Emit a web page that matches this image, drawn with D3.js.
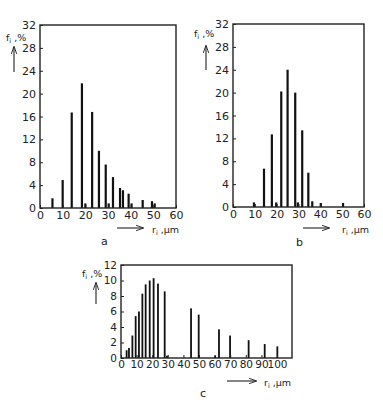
<!DOCTYPE html>
<html><head><meta charset="utf-8">
<script src="https://cdn.jsdelivr.net/npm/d3@7"></script>
<style>body{margin:0;background:#fff}svg{display:block}text{font-family:"DejaVu Sans",sans-serif;fill:#222}</style>
</head><body>
<script>
// Panel a
const radiiA = [5.5, 10, 14, 18.5, 20, 23, 26, 29, 30.3, 32.2, 35.3, 36.6, 39.1, 40.4, 45.3, 49.4, 50.6];
const freqA  = [1.7, 4.9, 16.7, 21.8, 0.8, 16.8, 10, 7.6, 0.8, 5.4, 3.5, 3.1, 2.5, 0.8, 1.4, 1.2, 0.8];
// Panel b
const radiiB = [9.6, 14.2, 17.8, 19.8, 22.1, 25, 28.5, 29.7, 31.7, 34.5, 36.3, 40.2, 50.4];
const freqB  = [0.8, 6.7, 12.7, 0.8, 20.2, 24, 20, 0.8, 13.4, 6, 1.0, 0.7, 0.7];
// Panel c
const radiiC = [3.6, 5.1, 7.3, 9.4, 11.5, 13.7, 15.8, 18.4, 20.9, 23.7, 28, 29.5, 44.9, 49.8, 60.3, 62.8, 69.9, 81.8, 92.1, 100.2];
const freqC  = [1.0, 1.3, 2.9, 5.4, 6.0, 8.3, 9.5, 10.0, 10.3, 9.6, 8.6, 0.3, 6.4, 5.6, 0.3, 3.7, 2.9, 2.3, 1.8, 1.5];
const xTicksAB = [0, 10, 20, 30, 40, 50, 60];
const yTicksAB = [0, 4, 8, 12, 16, 20, 24, 28, 32];
const xTicksC = [0, 10, 20, 30, 40, 50, 60, 70, 80, 90, 100];
const yTicksC = [0, 2, 4, 6, 8, 10, 12];
const panelLetters = ["a", "b", "c"];

const svg = d3.select("body").append("svg").attr("width", 383).attr("height", 408);
const defs = svg.append("defs");
defs.append("marker").attr("id","ah").attr("viewBox","0 0 10 10").attr("refX",9).attr("refY",5)
  .attr("markerWidth",7).attr("markerHeight",7).attr("orient","auto-start-reverse")
  .append("path").attr("d","M0,1.5 L10,5 L0,8.5").attr("fill","none").attr("stroke","#222").attr("stroke-width",1.2);

function panel(cfg){
  const x = d3.scaleLinear().domain(cfg.xd).range([cfg.l, cfg.r]);
  const y = d3.scaleLinear().domain(cfg.yd).range([cfg.b, cfg.t]);
  const g = svg.append("g");
  g.selectAll("rect.bar").data(cfg.radii).join("rect").attr("class","bar")
    .attr("x", d => x(d) - cfg.bw/2).attr("width", cfg.bw)
    .attr("y", (d,i) => y(cfg.freq[i])).attr("height", (d,i) => y(0) - y(cfg.freq[i]))
    .attr("fill", "#111");
  const ya = g.append("g").attr("transform", `translate(${cfg.l},0)`)
    .call(d3.axisLeft(y).tickValues(cfg.yt).tickSizeInner(-3).tickSizeOuter(0).tickPadding(4));
  const xa = g.append("g").attr("transform", `translate(0,${cfg.b})`)
    .call(d3.axisBottom(x).tickValues(cfg.xt).tickSizeInner(-3).tickSizeOuter(0).tickPadding(3));
  [ya, xa].forEach(a => {
    a.select(".domain").remove();
    a.selectAll("line").attr("stroke","#222").attr("stroke-width",1);
    a.selectAll("text").attr("font-size", cfg.fs).attr("fill","#222").style("font-family",'"DejaVu Sans",sans-serif');
  });
  g.append("rect").attr("x", cfg.l).attr("y", cfg.t).attr("width", cfg.r - cfg.l).attr("height", cfg.b - cfg.t)
    .attr("fill","none").attr("stroke","#222").attr("stroke-width",1.4);
  const yl = g.append("text").attr("x", cfg.ylx).attr("y", cfg.yly).attr("font-size", 9.5);
  yl.append("tspan").text("f");
  yl.append("tspan").attr("font-size",6.5).attr("dy",2).text("i");
  yl.append("tspan").attr("dy",-2).text(" ,%");
  g.append("line").attr("x1", cfg.yax).attr("x2", cfg.yax).attr("y1", cfg.yay1).attr("y2", cfg.yay2)
    .attr("stroke","#222").attr("stroke-width",1.1).attr("marker-end","url(#ah)");
  g.append("line").attr("x1", cfg.xax1).attr("x2", cfg.xax2).attr("y1", cfg.xay).attr("y2", cfg.xay)
    .attr("stroke","#222").attr("stroke-width",1.1).attr("marker-end","url(#ah)");
  const xl = g.append("text").attr("x", cfg.xlx).attr("y", cfg.xly).attr("font-size", 9.5);
  xl.append("tspan").text("r");
  xl.append("tspan").attr("font-size",6.5).attr("dy",2).text("i");
  xl.append("tspan").attr("dy",-2).text(" ,µm");
  g.append("text").attr("x", cfg.lx).attr("y", cfg.ly).attr("font-size", 11).text(cfg.letter);
}

panel({radii: radiiA, freq: freqA, xd:[0,60], yd:[0,32], l:40, r:176, t:25, b:208, bw:2.2, fs:11,
  xt: xTicksAB, yt: yTicksAB, ylx:6, yly:41, yax:14, yay1:72, yay2:47,
  xax1:117, xax2:143, xay:228, xlx:152, xly:233, lx:101, ly:245, letter: panelLetters[0]});
panel({radii: radiiB, freq: freqB, xd:[0,60], yd:[0,32], l:233, r:364, t:24, b:207, bw:2.2, fs:11,
  xt: xTicksAB, yt: yTicksAB, ylx:194, yly:37, yax:206, yay1:70, yay2:46,
  xax1:303, xax2:329, xay:228, xlx:342, xly:233, lx:296, ly:246, letter: panelLetters[1]});
panel({radii: radiiC, freq: freqC, xd:[0,109.6], yd:[0,12], l:121, r:292, t:265, b:358, bw:1.8, fs:10.5,
  xt: xTicksC, yt: yTicksC, ylx:82, yly:277, yax:96, yay1:304, yay2:283,
  xax1:227, xax2:256, xay:381, xlx:264, xly:386, lx:200, ly:397, letter: panelLetters[2]});
</script>
</body></html>
